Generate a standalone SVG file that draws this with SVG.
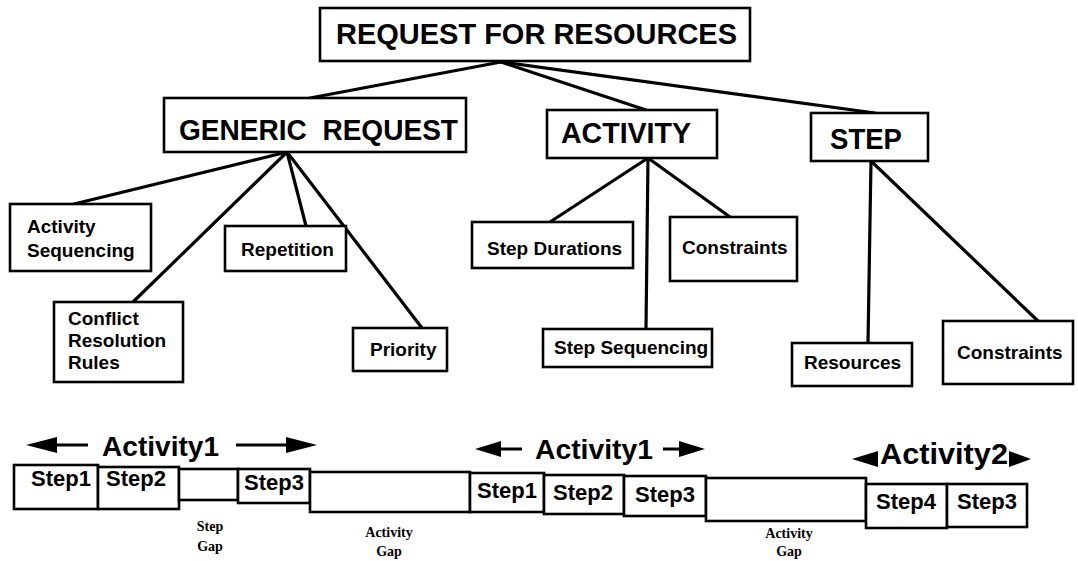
<svg xmlns="http://www.w3.org/2000/svg" width="1078" height="561" viewBox="0 0 1078 561">
<style>
.bx{fill:#fff;stroke:#000;stroke-width:2.6}
.ln{stroke:#000;stroke-width:3.2;fill:none;stroke-linecap:round}
.big{font-family:"Liberation Sans",Arial,sans-serif;font-weight:bold;font-size:29px;fill:#000}
.sm{font-family:"Liberation Sans",Arial,sans-serif;font-weight:bold;font-size:19px;fill:#000}
.st{font-family:"Liberation Sans",Arial,sans-serif;font-weight:bold;font-size:22px;fill:#000}
.act{font-family:"Liberation Sans",Arial,sans-serif;font-weight:bold;font-size:28px;fill:#000}
.gap{font-family:"Liberation Serif","Times New Roman",serif;font-weight:bold;font-size:14px;fill:#000;text-anchor:middle}
.ar{stroke:#000;stroke-width:3;fill:none}
.hd{fill:#000}
</style>
<rect width="1078" height="561" fill="#fff"/>
<g id="connectors">
<line class="ln" x1="501" y1="62" x2="310" y2="98"/>
<line class="ln" x1="501" y1="62" x2="646" y2="110"/>
<line class="ln" x1="501" y1="62" x2="875" y2="113"/>
<line class="ln" x1="287" y1="152" x2="74" y2="204"/>
<line class="ln" x1="287" y1="152" x2="133" y2="302"/>
<line class="ln" x1="287" y1="152" x2="306" y2="226"/>
<line class="ln" x1="287" y1="152" x2="422" y2="328"/>
<line class="ln" x1="648" y1="158" x2="550" y2="222"/>
<line class="ln" x1="648" y1="158" x2="646" y2="329"/>
<line class="ln" x1="648" y1="158" x2="730" y2="217"/>
<line class="ln" x1="871" y1="161" x2="868" y2="343"/>
<line class="ln" x1="871" y1="161" x2="1038" y2="321"/>
</g>
<g id="request"><rect class="bx" x="320" y="8" width="430" height="53"/><text class="big" x="336" y="44" textLength="401" lengthAdjust="spacingAndGlyphs">REQUEST FOR RESOURCES</text></g>
<g id="generic"><rect class="bx" x="164" y="98" width="302" height="54"/><text class="big" x="179" y="140" textLength="279" lengthAdjust="spacingAndGlyphs">GENERIC&#160; REQUEST</text></g>
<g id="activity"><rect class="bx" x="547" y="110" width="170" height="48"/><text class="big" x="561" y="143" textLength="130" lengthAdjust="spacingAndGlyphs">ACTIVITY</text></g>
<g id="step"><rect class="bx" x="811" y="113" width="117" height="48"/><text class="big" x="830" y="149" textLength="72" lengthAdjust="spacingAndGlyphs">STEP</text></g>
<g id="actseq"><rect class="bx" x="10" y="204" width="141" height="67"/><text class="sm" x="27" y="233">Activity</text><text class="sm" x="27" y="257">Sequencing</text></g>
<g id="conflict"><rect class="bx" x="54" y="302" width="129" height="80"/><text class="sm" x="68" y="325">Conflict</text><text class="sm" x="68" y="347">Resolution</text><text class="sm" x="68" y="369">Rules</text></g>
<g id="repetition"><rect class="bx" x="225" y="226" width="121" height="45"/><text class="sm" x="241" y="256">Repetition</text></g>
<g id="priority"><rect class="bx" x="353" y="328" width="94" height="43"/><text class="sm" x="370" y="356">Priority</text></g>
<g id="stepdur"><rect class="bx" x="472" y="222" width="161" height="46"/><text class="sm" x="487" y="255">Step Durations</text></g>
<g id="actcons"><rect class="bx" x="670" y="217" width="127" height="64"/><text class="sm" x="682" y="254">Constraints</text></g>
<g id="stepseq"><rect class="bx" x="543" y="329" width="169" height="38"/><text class="sm" x="554" y="354">Step Sequencing</text></g>
<g id="resources"><rect class="bx" x="792" y="343" width="120" height="43"/><text class="sm" x="804" y="369">Resources</text></g>
<g id="stepcons"><rect class="bx" x="943" y="321" width="130" height="63"/><text class="sm" x="957" y="359">Constraints</text></g>
<g id="timeline">
<rect class="bx" x="14" y="465" width="84" height="44"/>
<rect class="bx" x="98" y="467" width="81" height="42"/>
<rect class="bx" x="179" y="469" width="59" height="31"/>
<rect class="bx" x="238" y="469" width="72" height="34"/>
<rect class="bx" x="310" y="472" width="160" height="40"/>
<rect class="bx" x="470" y="473" width="74" height="39"/>
<rect class="bx" x="544" y="475" width="80" height="39"/>
<rect class="bx" x="624" y="476" width="82" height="40"/>
<rect class="bx" x="706" y="478" width="160" height="43"/>
<rect class="bx" x="866" y="484" width="81" height="44"/>
<rect class="bx" x="947" y="484" width="80" height="43"/>
<text class="st" x="31" y="486">Step1</text>
<text class="st" x="106" y="486">Step2</text>
<text class="st" x="244" y="490">Step3</text>
<text class="st" x="477" y="498">Step1</text>
<text class="st" x="553" y="500">Step2</text>
<text class="st" x="635" y="502">Step3</text>
<text class="st" x="876" y="509">Step4</text>
<text class="st" x="957" y="509">Step3</text>
<text class="gap" x="210" y="531">Step</text>
<text class="gap" x="210" y="551">Gap</text>
<text class="gap" x="389" y="537">Activity</text>
<text class="gap" x="389" y="556">Gap</text>
<text class="gap" x="789" y="538">Activity</text>
<text class="gap" x="789" y="556">Gap</text>
</g>
<g id="activity1a">
<text class="act" x="102" y="456" textLength="117" lengthAdjust="spacingAndGlyphs">Activity1</text>
<line class="ar" x1="55" y1="445" x2="88" y2="445"/><polygon class="hd" points="26,445 57,437 57,453"/>
<line class="ar" x1="236" y1="445" x2="290" y2="445"/><polygon class="hd" points="317,445 286,437 286,453"/>
</g>
<g id="activity1b">
<text class="act" x="535" y="459" textLength="118" lengthAdjust="spacingAndGlyphs">Activity1</text>
<line class="ar" x1="498" y1="449" x2="522" y2="449"/><polygon class="hd" points="475,449 501,441 501,457"/>
<line class="ar" x1="663" y1="449" x2="682" y2="449"/><polygon class="hd" points="705,449 679,441 679,457"/>
</g>
<g id="activity2">
<text class="act" x="880" y="464" textLength="128" lengthAdjust="spacingAndGlyphs" style="font-size:30px">Activity2</text>
<polygon class="hd" points="852,459 878,451 878,467"/>
<polygon class="hd" points="1031,459 1009,451 1009,467"/>
</g>
</svg>
